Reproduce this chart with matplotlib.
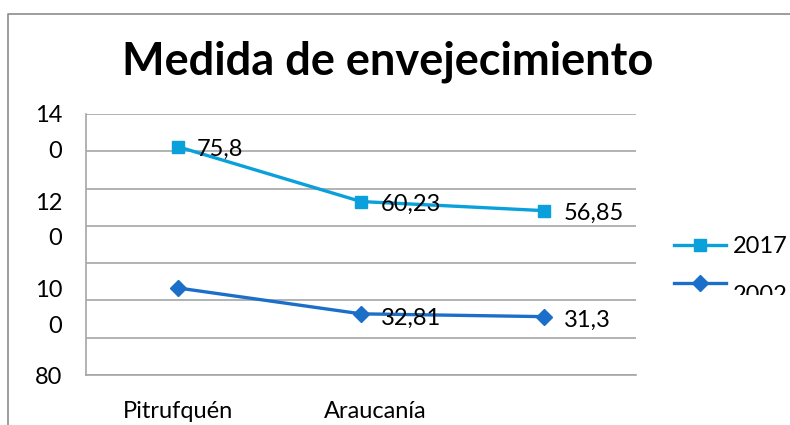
import numpy as np
import matplotlib.pyplot as plt
from matplotlib.transforms import Bbox, ScaledTranslation

# Data (stacked line chart: 2017 is drawn on top of 2002)
categories = ['Pitrufquén', 'Araucanía', '']
v2002 = [46.7, 32.81, 31.3]
v2017 = [75.8, 60.23, 56.85]
labels2002 = ['', '32,81', '31,3']
labels2017 = ['75,8', '60,23', '56,85']
ytick_text = ['80', '10\n0', '12\n0', '14\n0']
ytick_pos = [-1.1, 35.7, 82.6, 129.5]

plt.rcParams['font.family'] = ['Lato', 'DejaVu Sans']

c2017 = '#0aa0dc'
c2002 = '#1c6fc8'
fs = 17

fig = plt.figure(figsize=(7.9, 4.25), dpi=100)
ax = fig.add_axes([86 / 790, 1 - 375 / 425, 550 / 790, 261 / 425])

x = np.arange(len(categories))
s2002 = np.array(v2002)
s2017 = s2002 + np.array(v2017)

ax.plot(x, s2017, color=c2017, lw=2.4, marker='s', ms=9, label='2017', zorder=3)
ax.plot(x, s2002, color=c2002, lw=2.4, marker='D', ms=8, label='2002', zorder=3)

for xi, yi, t in zip(x, s2017, labels2017):
    ax.annotate(t, (xi, yi), xytext=(14, -2), textcoords='offset points',
                va='center', ha='left', fontsize=fs)
for xi, yi, t in zip(x, s2002, labels2002):
    ax.annotate(t, (xi, yi), xytext=(14, -3), textcoords='offset points',
                va='center', ha='left', fontsize=fs)

ax.set_xlim(-0.5, 2.5)
ax.set_ylim(0, 140)
ax.set_yticks(np.arange(0, 141, 20))
ax.yaxis.grid(True, color='#a6a6a6', lw=1.2)
ax.set_axisbelow(True)
ax.tick_params(axis='y', length=0, labelleft=False)
ax.tick_params(axis='x', length=0, labelsize=fs, pad=19)
ax.set_xticks(x)
ax.set_xticklabels(categories)
# Excel nudged the second category label to the right
lab = ax.get_xticklabels()[1]
lab.set_transform(lab.get_transform() + ScaledTranslation(14 / 100, 0, fig.dpi_scale_trans))
for side in ['top', 'right']:
    ax.spines[side].set_visible(False)
for side in ['left', 'bottom']:
    ax.spines[side].set_color('#a6a6a6')
    ax.spines[side].set_linewidth(1.2)

for t, p in zip(ytick_text, ytick_pos):
    ax.text(-0.043, p, t, transform=ax.get_yaxis_transform(), ha='right',
            va='center', fontsize=fs, linespacing=1.85, multialignment='right')

fig.text(388 / 790, 1 - 62 / 425, 'Medida de envejecimiento', ha='center',
         va='center', fontsize=32.5, fontweight='bold')

# outer chart border (left and top only visible)
fig.add_artist(plt.Line2D([8 / 790, 8 / 790, 1], [0, 1 - 14 / 425, 1 - 14 / 425],
                          transform=fig.transFigure, color='#8c8c8c', lw=1.2))

leg = ax.legend(loc='upper left', bbox_to_anchor=(653 / 790, 1 - 215 / 425),
                bbox_transform=fig.transFigure, frameon=False, fontsize=fs,
                handlelength=2.2, handletextpad=0.3, labelspacing=0.72)
fig.canvas.draw()
# legend box is cut off at the bottom, the 2002 label sits low and gets clipped
t2002 = leg.get_texts()[1]
t2002.set_transform(t2002.get_transform() + ScaledTranslation(0, -11 / 100, fig.dpi_scale_trans))
clip = Bbox.from_extents(0, 425 - 295, 790, 425)
for txt in leg.get_texts():
    txt.set_clip_box(clip)
    txt.set_clip_on(True)

fig.savefig('out.png', dpi=100)
